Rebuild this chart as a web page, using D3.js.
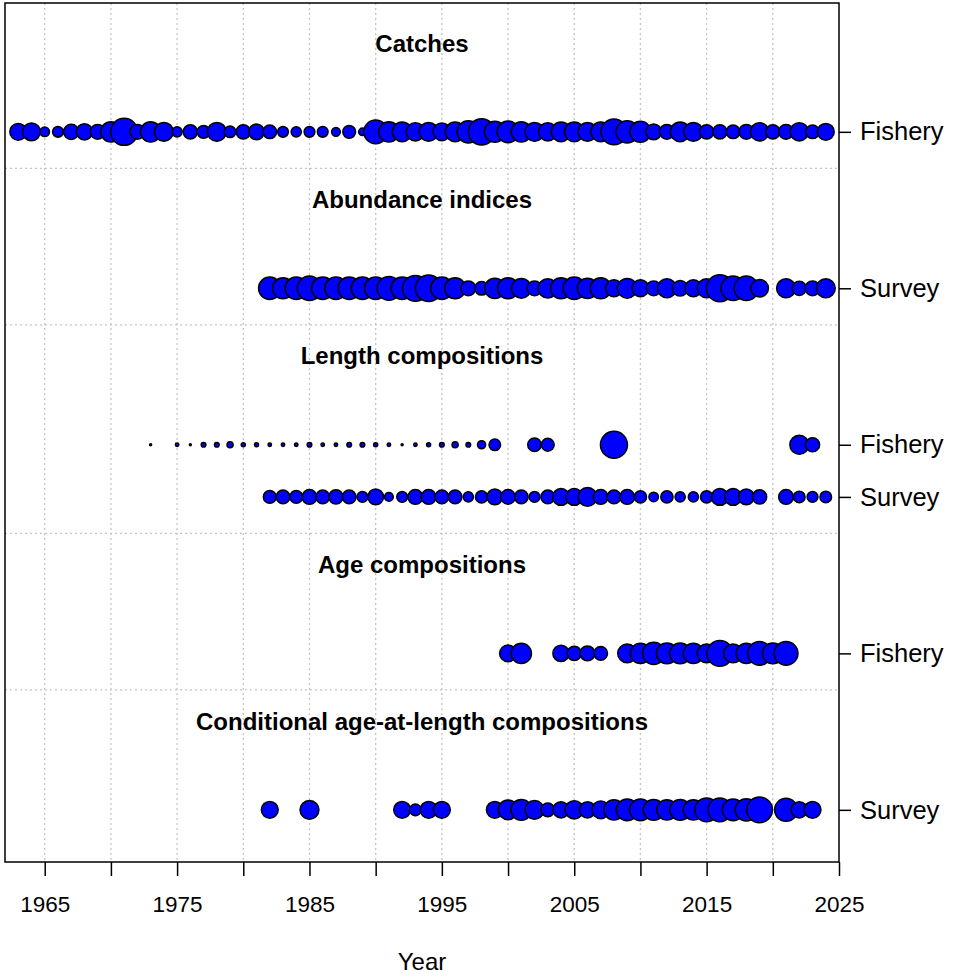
<!DOCTYPE html>
<html>
<head>
<meta charset="utf-8">
<script src="https://cdn.jsdelivr.net/npm/d3@7"></script>
<style>
  html, body { margin: 0; padding: 0; background: #fff; }
  text { font-family: "Liberation Sans", Arial, sans-serif; }
</style>
</head>
<body>
<svg id="chart" width="960" height="979"></svg>
<script>
// ---------------- DATA ----------------
const sectionTitles = ["Catches", "Abundance indices", "Length compositions", "Age compositions", "Conditional age-at-length compositions"];
const rowLabels = ["Fishery", "Survey", "Fishery", "Survey", "Fishery", "Survey"];
const xTickYears = [1965, 1970, 1975, 1980, 1985, 1990, 1995, 2000, 2005, 2010, 2015, 2020, 2025];
const xLabelYears = [1965, 1975, 1985, 1995, 2005, 2015, 2025];

// Catches - Fishery (relative magnitude)
const catchYears = d3.range(1963, 2025);
const catchValues = [8.3, 8.8, 4.7, 5.3, 7.5, 8, 7.3, 10, 13.3, 7.3, 10, 9.3, 5, 7, 6.3, 9.3, 5.7, 7, 7.7, 6.7,
  5.3, 5, 5.3, 5.3, 4.3, 6.3, 3.7, 11.7, 10, 9.7, 9, 9.3, 8.7, 9.7, 11, 13, 10.3, 10.7, 10, 9.3,
  9, 9.7, 9.7, 9.3, 9.7, 12.7, 11, 10.3, 7.7, 7.3, 9.7, 9.3, 7, 7, 6.7, 7.3, 9, 7, 7.3, 9, 6.7, 8.3];

// Abundance indices - Survey
const indexYears = d3.range(1982, 2020).concat([2021, 2022, 2023, 2024]);
const indexValues = [11, 10.3, 11, 12, 11, 11, 11, 11, 11, 11.7, 11, 12.7, 13, 11, 10.3, 7.3, 6.7, 10, 10.3, 9.7,
  7.3, 9.5, 10.3, 11, 10, 10.3, 8.3, 9.7, 8.3, 7.3, 9.3, 7.7, 8.3, 9.3, 13.3, 12, 12, 8.7,
  9.3, 7, 7.3, 9.3];

// Length compositions - Fishery
const lenFishYears = [1973].concat(d3.range(1975, 2000), [2002, 2003, 2008, 2022, 2023]);
const lenFishValues = [1, 1.7, 1, 2.3, 2.3, 3, 2, 2, 1.7, 1.7, 1.7, 2.3, 1.7, 1.7, 2.3, 2.3, 2, 1.7, 1, 1.7,
  2, 2.3, 3, 2.3, 4, 5.7, 6.7, 6.3, 13.3, 9.3, 7];

// Length compositions - Survey
const lenSurvYears = d3.range(1982, 2020).concat([2021, 2022, 2023, 2024]);
const lenSurvValues = [6.3, 6.7, 6.3, 7.3, 6.7, 7, 6.7, 5.3, 7.7, 4.3, 5.3, 7.3, 7.3, 6.7, 6.7, 5, 6, 7.7, 7.2, 6.7,
  5.3, 6.7, 8.3, 8.3, 9.3, 7.3, 6.7, 7.3, 6, 4.7, 6, 5, 5, 6, 8.3, 8.3, 7.7, 7,
  7.3, 5.7, 5.3, 5.7];

// Age compositions - Fishery
const ageFishYears = [2000, 2001, 2004, 2005, 2006, 2007].concat(d3.range(2009, 2022));
const ageFishValues = [8.3, 10, 8, 7, 7.3, 6.7, 9.3, 10, 11, 10.3, 10.3, 10, 9.3, 12.7, 9.3, 10, 11.7, 10.3, 11.7];

// Conditional age-at-length - Survey
const caalYears = [1982, 1985, 1992, 1993, 1994, 1995].concat(d3.range(1999, 2020), [2021, 2022, 2023]);
const caalValues = [8.3, 9.3, 8.3, 5.7, 8.3, 8.3, 8.3, 9.7, 10.3, 9.3, 6.7, 8, 9, 8, 8.7, 10, 10.7, 10.7, 10.3, 10,
  10.3, 10, 11.7, 11.7, 10.7, 11, 12.7, 11.3, 8, 8.3];

// Row positions (in row units) for each series
const rows = [
  { years: catchYears,   values: catchValues,   row: 14, label: rowLabels[0] },
  { years: indexYears,   values: indexValues,   row: 11, label: rowLabels[1] },
  { years: lenFishYears, values: lenFishValues, row: 8,  label: rowLabels[2] },
  { years: lenSurvYears, values: lenSurvValues, row: 7,  label: rowLabels[3] },
  { years: ageFishYears, values: ageFishValues, row: 4,  label: rowLabels[4] },
  { years: caalYears,    values: caalValues,    row: 1,  label: rowLabels[5] }
];
const titleRows = [15.7, 12.7, 9.7, 5.7, 2.7];
const dividerRows = [13.3, 10.3, 6.3, 3.3];

// ---------------- CHART ----------------
const svg = d3.select("#chart");
const L = 5, R = 839, T = 3, B = 862;
const FONT = '"Liberation Sans", Arial, sans-serif';

const x = d3.scaleLinear().domain([1962, 2025]).range([L, R]);
const y = d3.scaleLinear().domain([0, 16.47]).range([B, T]);
const r = d3.scaleLinear().domain([0, 13.3]).range([0, 13.5]);

// grid: vertical dotted
svg.append("g").selectAll("line")
  .data(xTickYears.filter(d => d < 2025))
  .join("line")
  .attr("x1", d => x(d)).attr("x2", d => x(d))
  .attr("y1", T).attr("y2", B)
  .attr("stroke", "#c4c4c4").attr("stroke-width", 1.3)
  .attr("stroke-dasharray", "2,3");

// section dividers
svg.append("g").selectAll("line")
  .data(dividerRows)
  .join("line")
  .attr("x1", L).attr("x2", R)
  .attr("y1", d => y(d)).attr("y2", d => y(d))
  .attr("stroke", "#c4c4c4").attr("stroke-width", 1.3)
  .attr("stroke-dasharray", "2,3");

// section titles
svg.append("g").selectAll("text")
  .data(sectionTitles)
  .join("text")
  .attr("x", (L + R) / 2)
  .attr("y", (d, i) => y(titleRows[i]))
  .attr("dy", "0.35em")
  .attr("text-anchor", "middle")
  .attr("font-weight", "bold")
  .attr("font-size", 24)
  .text(d => d);

// bubbles
rows.forEach(s => {
  const data = s.years.map((yr, i) => ({ yr, v: s.values[i] }));
  svg.append("g").selectAll("circle")
    .data(data)
    .join("circle")
    .attr("cx", d => x(d.yr))
    .attr("cy", y(s.row))
    .attr("r", d => r(d.v))
    .attr("fill", "#0000ff")
    .attr("stroke", "#000")
    .attr("stroke-width", 1.5);
});

// frame
svg.append("rect")
  .attr("x", L).attr("y", T)
  .attr("width", R - L).attr("height", B - T)
  .attr("fill", "none").attr("stroke", "#000").attr("stroke-width", 1.5);

// bottom axis
const xAxis = d3.axisBottom(x)
  .tickValues(xTickYears)
  .tickSize(14)
  .tickPadding(20)
  .tickFormat(d => xLabelYears.includes(d) ? String(d) : "");
const gx = svg.append("g").attr("transform", `translate(0,${B})`).call(xAxis);
gx.select(".domain").remove();
gx.selectAll(".tick line").attr("stroke", "#000").attr("stroke-width", 1.5);
gx.selectAll(".tick text").attr("font-size", 22.5).attr("fill", "#000").style("font-family", FONT);

// right axis
const yAxis = d3.axisRight(y)
  .tickValues(rows.map(d => d.row))
  .tickSize(12)
  .tickPadding(9)
  .tickFormat(d => rows.find(s => s.row === d).label);
const gy = svg.append("g").attr("transform", `translate(${R},0)`).call(yAxis);
gy.select(".domain").remove();
gy.selectAll(".tick line").attr("stroke", "#000").attr("stroke-width", 1.5);
gy.selectAll(".tick text").attr("font-size", 25.5).attr("fill", "#000").style("font-family", FONT);

// x axis title
svg.append("text")
  .attr("x", (L + R) / 2)
  .attr("y", 962)
  .attr("dy", "0.35em")
  .attr("text-anchor", "middle")
  .attr("font-size", 24)
  .text("Year");
</script>
</body>
</html>
